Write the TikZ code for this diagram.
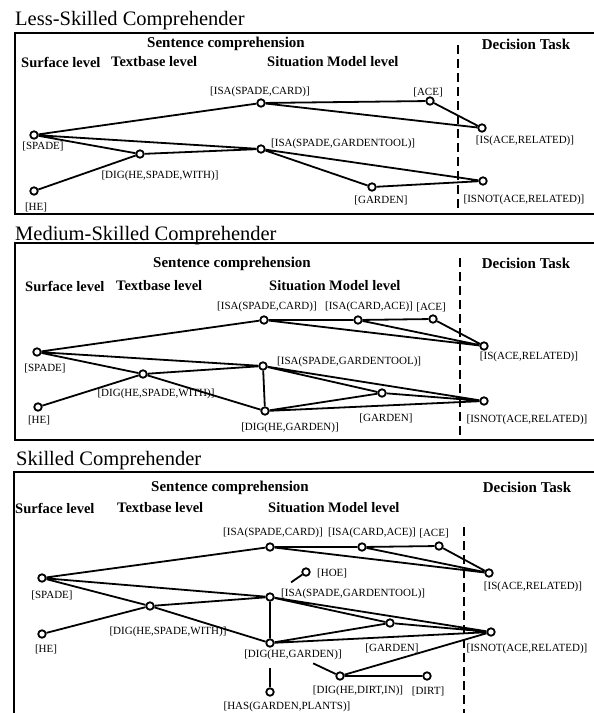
\documentclass[tikz,border=0pt]{standalone}
\usepackage{fontspec}
\setmainfont{Liberation Serif}
\usetikzlibrary{positioning}

\begin{document}
\begin{tikzpicture}[x=1pt,y=-1pt,
    dot/.style={circle,draw,line width=1.8pt,fill=white,inner sep=0pt,minimum size=7.5pt},
    link/.style={line width=1.8pt},
    prop/.style={font=\fontsize{11}{11}\selectfont,inner sep=0pt},
    heading/.style={font=\fontsize{15}{15}\selectfont\bfseries,inner sep=0pt},
    level/.style={font=\fontsize{14.5}{14.5}\selectfont\bfseries,inner sep=0pt,anchor=west},
    panel/.style={font=\fontsize{20.5}{20.5}\selectfont,inner sep=0pt,anchor=base west},
    frame/.style={line width=1.4pt},
    divider/.style={line width=1.6pt,dash pattern=on 9pt off 5pt}]

    \useasboundingbox (0,0) rectangle (594,713);

    % Less-skilled reader
    \begin{scope}[name prefix=less-]
        \node[panel] (title) at (15,25) {Less-Skilled Comprehender};
        \draw[frame] (15,33) rectangle (600,214);
        \node[heading] (sent) at (226,44) {Sentence comprehension};
        \node[heading] (task) at (526,44) {Decision Task};
        \node[level] (surf) at (21,62) {Surface level};
        \node[level] (textb) at (111,62) {Textbase level};
        \node[level] (sit) at (267,62) {Situation Model level};
        \draw[divider] (458,45) -- (458,214);

        \node[dot] (spade) at (34,135) {};
        \node[dot] (he) at (34,191) {};
        \node[dot] (dig) at (140,154) {};
        \node[dot] (isacard) at (261,103) {};
        \node[dot] (isagt) at (261,149) {};
        \node[dot] (ace) at (430,101) {};
        \node[dot] (isrel) at (482,128) {};
        \node[dot] (garden) at (372,187) {};
        \node[dot] (isnot) at (483,181) {};

        \draw[link] (spade) -- (isacard) (spade) -- (isagt) (spade) -- (dig)
            (he) -- (dig) (dig) -- (isagt)
            (isacard) -- (ace) (isacard) -- (isrel) (ace) -- (isrel)
            (isagt) -- (garden) (isagt) -- (isnot) (garden) -- (isnot);

        \node[prop] (isacard-l) at (260,92) {[ISA(SPADE,CARD)]};
        \node[prop] (ace-l) at (428,92) {[ACE]};
        \node[prop] (isrel-l) at (525,141) {[IS(ACE,RELATED)]};
        \node[prop] (spade-l) at (43,146) {[SPADE]};
        \node[prop,anchor=west] (isagt-l) at (271,144) {[ISA(SPADE,GARDENTOOL)]};
        \node[prop] (dig-l) at (160,176) {[DIG(HE,SPADE,WITH)]};
        \node[prop] (he-l) at (36,207) {[HE]};
        \node[prop] (garden-l) at (381,200) {[GARDEN]};
        \node[prop] (isnot-l) at (524,200) {[ISNOT(ACE,RELATED)]};
    \end{scope}

    % Medium-skilled reader
    \begin{scope}[name prefix=med-]
        \node[panel] (title) at (15,240) {Medium-Skilled Comprehender};
        \draw[frame] (15,243) rectangle (600,440);
        \node[heading] (sent) at (232,264) {Sentence comprehension};
        \node[heading] (task) at (526,263) {Decision Task};
        \node[level] (surf) at (25,286) {Surface level};
        \node[level] (textb) at (116,286) {Textbase level};
        \node[level] (sit) at (269,286) {Situation Model level};
        \draw[divider] (460,258) -- (460,440);

        \node[dot] (spade) at (37,352) {};
        \node[dot] (he) at (38,407) {};
        \node[dot] (dig) at (143,374) {};
        \node[dot] (isacard) at (264,320) {};
        \node[dot] (isaca) at (358,320) {};
        \node[dot] (ace) at (433,319) {};
        \node[dot] (isrel) at (484,346) {};
        \node[dot] (isagt) at (263,366) {};
        \node[dot] (garden) at (382,393) {};
        \node[dot] (dighg) at (265,411) {};
        \node[dot] (isnot) at (484,401) {};

        \draw[link] (spade) -- (isacard) (spade) -- (isagt) (spade) -- (dig)
            (he) -- (dig) (dig) -- (isagt) (dig) -- (dighg)
            (isacard) -- (isaca) (isaca) -- (ace)
            (isacard) -- (isrel) (isaca) -- (isrel) (ace) -- (isrel)
            (isagt) -- (dighg) (isagt) -- (garden) (isagt) -- (isnot)
            (garden) -- (isnot) (dighg) -- (garden) (dighg) -- (isnot);

        \node[prop] (isacard-l) at (267,307) {[ISA(SPADE,CARD)]};
        \node[prop] (isaca-l) at (369,307) {[ISA(CARD,ACE)]};
        \node[prop] (ace-l) at (431,307) {[ACE]};
        \node[prop] (isrel-l) at (529,357) {[IS(ACE,RELATED)]};
        \node[prop] (spade-l) at (45,368) {[SPADE]};
        \node[prop,anchor=west] (isagt-l) at (277,362) {[ISA(SPADE,GARDENTOOL)]};
        \node[prop] (dig-l) at (156,394) {[DIG(HE,SPADE,WITH)]};
        \node[prop] (he-l) at (39,420) {[HE]};
        \node[prop] (garden-l) at (386,418) {[GARDEN]};
        \node[prop] (dighg-l) at (290,428) {[DIG(HE,GARDEN)]};
        \node[prop] (isnot-l) at (527,420) {[ISNOT(ACE,RELATED)]};
    \end{scope}

    % Skilled reader
    \begin{scope}[name prefix=skill-]
        \node[panel] (title) at (16,465) {Skilled Comprehender};
        \draw[frame] (14,472) rectangle (600,720);
        \node[heading] (sent) at (230,488) {Sentence comprehension};
        \node[heading] (task) at (527,487) {Decision Task};
        \node[level] (surf) at (15,508) {Surface level};
        \node[level] (textb) at (117,508) {Textbase level};
        \node[level] (sit) at (268,508) {Situation Model level};
        \draw[divider] (464,527) -- (464,713);

        \node[dot] (spade) at (42,578) {};
        \node[dot] (he) at (42,634) {};
        \node[dot] (dig) at (150,606) {};
        \node[dot] (isacard) at (270,547) {};
        \node[dot] (isaca) at (362,547) {};
        \node[dot] (ace) at (439,546) {};
        \node[dot] (isrel) at (489,573) {};
        \node[dot] (hoe) at (306,572) {};
        \node[dot] (isagt) at (270,597) {};
        \node[dot] (garden) at (390,623) {};
        \node[dot] (dighg) at (270,643) {};
        \node[dot] (isnot) at (491,632) {};
        \node[dot] (dighdi) at (340,676) {};
        \node[dot] (dirt) at (427,676) {};
        \node[dot] (has) at (270,692) {};

        \draw[link] (spade) -- (isacard) (spade) -- (isagt) (spade) -- (dig)
            (he) -- (dig) (dig) -- (isagt) (dig) -- (dighg)
            (isacard) -- (isaca) (isaca) -- (ace)
            (isacard) -- (isrel) (isaca) -- (isrel) (ace) -- (isrel)
            (isagt) -- (dighg) (isagt) -- (garden) (isagt) -- (isnot)
            (garden) -- (isnot) (dighg) -- (garden) (dighg) -- (isnot)
            (dighdi) -- (dirt) (dighdi) -- (isnot);
        \draw[link,shorten >=21pt] (hoe) -- (isagt);
        \draw[link,shorten <=20pt] (dighg) -- (has);
        \draw[link,shorten <=43pt] (dighg) -- (dighdi);

        \node[prop] (isacard-l) at (273,533) {[ISA(SPADE,CARD)]};
        \node[prop] (isaca-l) at (372,533) {[ISA(CARD,ACE)]};
        \node[prop] (ace-l) at (434,533) {[ACE]};
        \node[prop] (isrel-l) at (533,587) {[IS(ACE,RELATED)]};
        \node[prop] (spade-l) at (52,595) {[SPADE]};
        \node[prop,anchor=west] (hoe-l) at (317,573) {[HOE]};
        \node[prop,anchor=west] (isagt-l) at (281,594) {[ISA(SPADE,GARDENTOOL)]};
        \node[prop] (dig-l) at (168,632) {[DIG(HE,SPADE,WITH)]};
        \node[prop] (he-l) at (46,649) {[HE]};
        \node[prop] (garden-l) at (392,648) {[GARDEN]};
        \node[prop] (dighg-l) at (293,655) {[DIG(HE,GARDEN)]};
        \node[prop] (isnot-l) at (527,649) {[ISNOT(ACE,RELATED)]};
        \node[prop] (dighdi-l) at (358,691) {[DIG(HE,DIRT,IN)]};
        \node[prop] (dirt-l) at (428,691) {[DIRT]};
        \node[prop] (has-l) at (287,707) {[HAS(GARDEN,PLANTS)]};
    \end{scope}

\end{tikzpicture}
\end{document}
